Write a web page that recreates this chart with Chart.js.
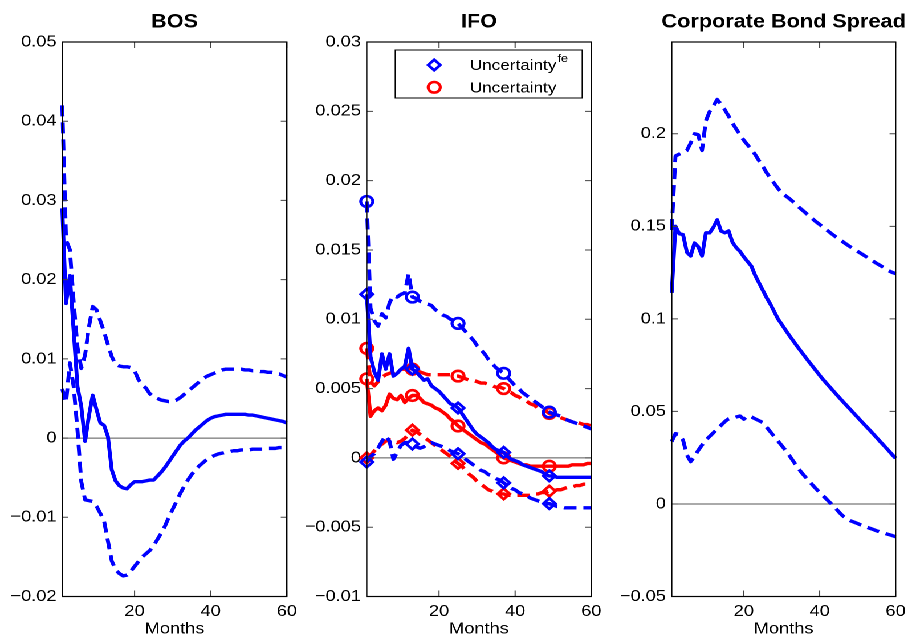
<!DOCTYPE html>
<html>
<head>
<meta charset="utf-8">
<title>Impulse responses</title>
<script src="https://cdn.jsdelivr.net/npm/chart.js@4.4.1/dist/chart.umd.min.js"></script>
<style>
  html, body { margin: 0; padding: 0; background: #fff; }
  body { width: 912px; height: 637px; overflow: hidden; position: relative; }
  /* the figure is laid out 800px wide and stretched to the full 912px */
  #figure { position: absolute; left: 0; top: 0; width: 800px; height: 637px;
            transform: scaleX(1.14); transform-origin: 0 0; }
  .panel { position: absolute; top: 0; height: 637px; }
</style>
</head>
<body>
<div id="figure">
  <div class="panel" style="left:0px;width:266px"><canvas id="bos"></canvas></div>
  <div class="panel" style="left:266px;width:267px"><canvas id="ifo"></canvas></div>
  <div class="panel" style="left:533px;width:267px"><canvas id="cbs"></canvas></div>
</div>
<script>
// ---- horizon (months) and axis ticks ----
const MONTHS = [1,2,3,4,5,6,7,8,9,10,11,12,13,14,15,16,17,18,19,20,
                21,22,23,24,25,26,27,28,29,30,31,32,33,34,35,36,37,38,39,40,
                41,42,43,44,45,46,47,48,49,50,51,52,53,54,55,56,57,58,59,60];
const X_TICKS = [20, 40, 60];
const MARKER_MONTHS = [1, 13, 25, 37, 49];

const BOS_TICKS = [-0.02, -0.01, 0, 0.01, 0.02, 0.03, 0.04, 0.05];
const IFO_TICKS = [-0.01, -0.005, 0, 0.005, 0.01, 0.015, 0.02, 0.025, 0.03];
const CBS_TICKS = [-0.05, 0, 0.05, 0.1, 0.15, 0.2];

// ---- BOS ----
const BOS_MEDIAN = [0.029,0.017,0.0205,0.0135,0.0065,0.0040,-0.0004,0.0028,0.0054,0.0036,
  0.0019,0.0016,0.0002,-0.0040,-0.0054,-0.0060,-0.0063,-0.0064,-0.0059,-0.0055,
  -0.0055,-0.0055,-0.0054,-0.0053,-0.0053,-0.0048,-0.0043,-0.0037,-0.0030,-0.0023,
  -0.0016,-0.0009,-0.0004,0.0000,0.0005,0.0010,0.0014,0.0018,0.0022,0.0025,
  0.0027,0.0028,0.0029,0.0030,0.0030,0.0030,0.0030,0.0030,0.0030,0.0029,
  0.0029,0.0028,0.0027,0.0026,0.0025,0.0024,0.0023,0.0022,0.0021,0.0019];
const BOS_UPPER = [0.0420,0.0250,0.0238,0.0172,0.0115,0.0088,0.0105,0.0140,0.0166,0.0162,
  0.0148,0.0134,0.0118,0.0103,0.0093,0.0091,0.0090,0.0090,0.0089,0.0085,
  0.0074,0.0067,0.0063,0.0056,0.0052,0.0050,0.0048,0.0047,0.0046,0.0046,
  0.0048,0.0051,0.0055,0.0059,0.0063,0.0067,0.0071,0.0075,0.0078,0.0080,
  0.0082,0.0084,0.0086,0.0087,0.0087,0.0087,0.0087,0.0087,0.0086,0.0086,
  0.0085,0.0085,0.0084,0.0084,0.0083,0.0083,0.0082,0.0081,0.0079,0.0077];
const BOS_LOWER = [0.0062,0.0045,0.0095,0.0065,0.0010,-0.0055,-0.0078,-0.0079,-0.0080,-0.0086,
  -0.0095,-0.0105,-0.0130,-0.0155,-0.0166,-0.0171,-0.0174,-0.0173,-0.0168,-0.0162,
  -0.0156,-0.0150,-0.0146,-0.0142,-0.0136,-0.0128,-0.0120,-0.0111,-0.0100,-0.0090,
  -0.0080,-0.0070,-0.0061,-0.0053,-0.0046,-0.0040,-0.0035,-0.0031,-0.0027,-0.0024,
  -0.0022,-0.0020,-0.0019,-0.0018,-0.0017,-0.0016,-0.0016,-0.0015,-0.0015,-0.0015,
  -0.0014,-0.0014,-0.0014,-0.0014,-0.0013,-0.0013,-0.0013,-0.0012,-0.0012,-0.0011];

// ---- IFO, forecast-error uncertainty (blue) ----
const IFO_FE_UPPER = [0.0185,0.0108,0.0099,0.0095,0.0104,0.0101,0.0112,0.0117,0.0116,0.0118,
  0.0119,0.0133,0.0116,0.0115,0.0113,0.0112,0.0111,0.0110,0.0107,0.0105,
  0.0103,0.0102,0.0100,0.0099,0.0097,0.0094,0.0091,0.0088,0.0085,0.0081,
  0.0078,0.0075,0.0071,0.0068,0.0065,0.0063,0.0061,0.0058,0.0055,0.0052,
  0.0050,0.0047,0.0045,0.0043,0.0041,0.0039,0.0037,0.0035,0.0033,0.0032,
  0.0031,0.0030,0.0028,0.0027,0.0026,0.0025,0.0024,0.0023,0.0022,0.0021];
const IFO_FE_MEDIAN = [0.0118,0.0073,0.0062,0.0056,0.0075,0.0064,0.0075,0.0059,0.0061,0.0064,
  0.0066,0.0079,0.0064,0.0062,0.0059,0.0056,0.0057,0.0052,0.0050,0.0048,
  0.0045,0.0042,0.0039,0.0038,0.0036,0.0032,0.0028,0.0024,0.0020,0.0017,
  0.0015,0.0013,0.0011,0.0008,0.0006,0.0005,0.0004,0.0001,-0.0001,-0.0002,
  -0.0003,-0.0005,-0.0006,-0.0007,-0.0008,-0.0009,-0.0010,-0.0012,-0.0013,-0.0013,
  -0.0014,-0.0014,-0.0014,-0.0014,-0.0014,-0.0014,-0.0014,-0.0014,-0.0014,-0.0014];
const IFO_FE_LOWER = [-0.0003,0.0001,0.0003,0.0007,0.0012,0.0016,0.0012,-0.0001,0.0004,0.0009,
  0.0011,0.0011,0.0010,0.0008,0.0007,0.0008,0.0010,0.0011,0.0010,0.0009,
  0.0008,0.0007,0.0005,0.0004,0.0003,0.0001,-0.0001,-0.0003,-0.0005,-0.0007,
  -0.0009,-0.0010,-0.0012,-0.0013,-0.0015,-0.0016,-0.0018,-0.0020,-0.0022,-0.0023,
  -0.0025,-0.0026,-0.0027,-0.0029,-0.0030,-0.0031,-0.0032,-0.0033,-0.0033,-0.0034,
  -0.0035,-0.0035,-0.0036,-0.0036,-0.0036,-0.0036,-0.0036,-0.0036,-0.0036,-0.0036];

// ---- IFO, uncertainty (red) ----
const IFO_UNC_UPPER = [0.0079,0.0055,0.0052,0.0055,0.0058,0.0060,0.0061,0.0062,0.0063,0.0064,
  0.0064,0.0065,0.0064,0.0063,0.0062,0.0061,0.0060,0.0060,0.0060,0.0060,
  0.0060,0.0060,0.0060,0.0059,0.0059,0.0058,0.0057,0.0056,0.0056,0.0055,
  0.0054,0.0054,0.0053,0.0052,0.0051,0.0051,0.0050,0.0048,0.0047,0.0045,
  0.0044,0.0042,0.0041,0.0039,0.0038,0.0036,0.0035,0.0034,0.0032,0.0031,
  0.0030,0.0029,0.0028,0.0027,0.0026,0.0026,0.0025,0.0024,0.0024,0.0023];
const IFO_UNC_MEDIAN = [0.0057,0.0030,0.0034,0.0036,0.0034,0.0038,0.0046,0.0043,0.0042,0.0045,
  0.0040,0.0043,0.0045,0.0045,0.0043,0.0040,0.0039,0.0038,0.0036,0.0035,
  0.0033,0.0031,0.0028,0.0026,0.0023,0.0021,0.0019,0.0017,0.0015,0.0013,
  0.0011,0.0010,0.0008,0.0006,0.0004,0.0002,0.0000,-0.0001,-0.0002,-0.0003,
  -0.0004,-0.0005,-0.0005,-0.0006,-0.0006,-0.0006,-0.0006,-0.0006,-0.0006,-0.0006,
  -0.0006,-0.0006,-0.0006,-0.0006,-0.0005,-0.0005,-0.0005,-0.0005,-0.0004,-0.0004];
const IFO_UNC_LOWER = [0.0000,0.0002,0.0005,0.0008,0.0010,0.0012,0.0013,0.0012,0.0011,0.0012,
  0.0014,0.0017,0.0020,0.0019,0.0017,0.0015,0.0013,0.0011,0.0009,0.0007,
  0.0005,0.0003,0.0001,-0.0002,-0.0004,-0.0006,-0.0009,-0.0012,-0.0014,-0.0017,
  -0.0019,-0.0021,-0.0023,-0.0024,-0.0026,-0.0026,-0.0026,-0.0027,-0.0027,-0.0027,
  -0.0027,-0.0027,-0.0027,-0.0027,-0.0026,-0.0026,-0.0025,-0.0025,-0.0024,-0.0024,
  -0.0023,-0.0023,-0.0022,-0.0021,-0.0021,-0.0020,-0.0020,-0.0019,-0.0019,-0.0018];

// ---- Corporate bond spread ----
const CBS_MEDIAN = [0.114,0.150,0.146,0.1455,0.136,0.134,0.141,0.139,0.134,0.1465,
  0.1465,0.1495,0.1535,0.1475,0.1465,0.1475,0.1415,0.1385,0.1365,0.1335,
  0.1310,0.1285,0.1235,0.1195,0.1155,0.1115,0.1080,0.1040,0.1000,0.0970,
  0.0940,0.0910,0.0882,0.0854,0.0827,0.0800,0.0773,0.0747,0.0721,0.0695,
  0.0670,0.0647,0.0624,0.0601,0.0578,0.0556,0.0534,0.0512,0.0490,0.0468,
  0.0446,0.0424,0.0403,0.0381,0.0359,0.0336,0.0314,0.0292,0.0269,0.0247];
const CBS_UPPER = [0.148,0.188,0.189,0.190,0.191,0.195,0.200,0.1995,0.191,0.207,
  0.212,0.215,0.2185,0.216,0.213,0.2096,0.2058,0.2026,0.1995,0.1965,
  0.1940,0.1916,0.1888,0.1855,0.1825,0.1790,0.1760,0.1733,0.1705,0.1682,
  0.1665,0.1650,0.1633,0.1614,0.1595,0.1578,0.1560,0.1543,0.1525,0.1510,
  0.1494,0.1478,0.1462,0.1447,0.1432,0.1418,0.1404,0.1390,0.1378,0.1365,
  0.1352,0.1339,0.1326,0.1313,0.1300,0.1288,0.1276,0.1262,0.1252,0.1245];
const CBS_LOWER = [0.0337,0.0380,0.0375,0.0345,0.0265,0.0229,0.0255,0.0290,0.0318,0.0345,
  0.0365,0.0385,0.0405,0.0425,0.0445,0.0460,0.0465,0.0470,0.0475,0.0458,
  0.0476,0.0470,0.0460,0.0450,0.0440,0.0415,0.0390,0.0365,0.0340,0.0315,
  0.0290,0.0262,0.0232,0.0203,0.0175,0.0151,0.0128,0.0105,0.0083,0.0062,
  0.0042,0.0022,0.0002,-0.0019,-0.0042,-0.0063,-0.0078,-0.0090,-0.0098,-0.0106,
  -0.0115,-0.0122,-0.0130,-0.0137,-0.0145,-0.0152,-0.0158,-0.0164,-0.0170,-0.0177];

const BLUE = '#0000ff';
const RED = '#ff0000';
const FONT = '"Liberation Sans", Arial, Helvetica, sans-serif';

Chart.defaults.font.family = FONT;
Chart.defaults.color = '#000';

const LEGEND_ENTRIES = [
  { text: 'Uncertainty', sup: 'fe', color: BLUE, marker: 'rectRot' },
  { text: 'Uncertainty', sup: '', color: RED, marker: 'circle' }
];

function fmtTick(v) {
  return String(v).replace('-', '\u2212');
}

function series(label, data, color, dashed, marker) {
  return {
    label,
    data,
    borderColor: color,
    borderWidth: 3.4,
    borderDash: dashed ? [11, 6] : [],
    borderJoinStyle: 'round',
    fill: false,
    tension: 0,
    clip: 8,
    pointStyle: marker || 'circle',
    pointRadius: marker ? (c => MARKER_MONTHS.includes(MONTHS[c.dataIndex]) ? 5.3 : 0) : 0,
    pointHoverRadius: 0,
    pointBorderColor: color,
    pointBackgroundColor: 'rgba(0,0,0,0)',
    pointBorderWidth: 2.6
  };
}

// box, inward tick marks, zero line and title
const frame = {
  id: 'frame',
  beforeDatasetsDraw(chart) {
    const { ctx, chartArea: a, scales: { y } } = chart;
    const y0 = y.getPixelForValue(0);
    ctx.save();
    ctx.strokeStyle = '#555';
    ctx.lineWidth = 1;
    ctx.beginPath();
    ctx.moveTo(a.left, y0);
    ctx.lineTo(a.right, y0);
    ctx.stroke();
    ctx.restore();
  },
  afterDraw(chart, args, opts) {
    const { ctx, chartArea: a, scales: { x, y } } = chart;
    ctx.save();
    ctx.strokeStyle = '#444';
    ctx.lineWidth = 1;
    ctx.beginPath();
    y.ticks.forEach(t => {
      const p = y.getPixelForValue(t.value);
      ctx.moveTo(a.left, p); ctx.lineTo(a.left + 5.3, p);
      ctx.moveTo(a.right, p); ctx.lineTo(a.right - 5.3, p);
    });
    x.ticks.forEach(t => {
      const p = x.getPixelForValue(t.value);
      ctx.moveTo(p, a.bottom); ctx.lineTo(p, a.bottom - 6);
      ctx.moveTo(p, a.top); ctx.lineTo(p, a.top + 6);
    });
    ctx.stroke();
    ctx.strokeStyle = '#000';
    ctx.lineWidth = 1.2;
    ctx.strokeRect(a.left, a.top, a.right - a.left, a.bottom - a.top);
    ctx.fillStyle = '#000';
    ctx.font = 'bold 19px ' + FONT;
    ctx.textAlign = 'center';
    ctx.textBaseline = 'middle';
    ctx.fillText(opts.text, (a.left + a.right) / 2, 22.5);
    ctx.restore();
  }
};

const ifoLegend = {
  id: 'ifoLegend',
  afterDraw(chart) {
    const { ctx, chartArea: a } = chart;
    const w = 164, h = 48;
    const left = a.right - 7.9 - w, top = a.top + 8;
    ctx.save();
    ctx.fillStyle = '#fff';
    ctx.fillRect(left, top, w, h);
    ctx.strokeStyle = '#000';
    ctx.lineWidth = 1;
    ctx.strokeRect(left, top, w, h);
    LEGEND_ENTRIES.forEach((e, i) => {
      const cy = top + 15 + i * 22.3;
      ctx.strokeStyle = e.color;
      ctx.fillStyle = 'rgba(0,0,0,0)';
      ctx.lineWidth = 2.6;
      Chart.helpers.drawPoint(ctx, { pointStyle: e.marker, radius: 5.3, borderWidth: 2.6, rotation: 0 }, left + 34.2, cy);
      ctx.fillStyle = '#000';
      ctx.font = '15px ' + FONT;
      ctx.textAlign = 'left';
      ctx.textBaseline = 'middle';
      ctx.fillText(e.text, left + 65.5, cy + 1);
      if (e.sup) {
        const tw = ctx.measureText(e.text).width;
        ctx.font = '11px ' + FONT;
        ctx.fillText(e.sup, left + 65.5 + tw + 1, cy - 6);
      }
    });
    ctx.restore();
  }
};

function makePanel(id, title, yMin, yMax, yTicks, yAxisWidth, padRight, datasets, extra) {
  return new Chart(document.getElementById(id), {
    type: 'line',
    data: { labels: MONTHS, datasets },
    options: {
      responsive: true,
      maintainAspectRatio: false,
      animation: false,
      devicePixelRatio: 2,
      events: [],
      layout: { padding: { top: 42, right: padRight, left: 0, bottom: 0 } },
      plugins: {
        legend: { display: false },
        tooltip: { enabled: false },
        frame: { text: title }
      },
      scales: {
        x: {
          type: 'linear',
          min: 1,
          max: 60,
          afterBuildTicks: ax => { ax.ticks = X_TICKS.map(v => ({ value: v })); },
          afterFit: ax => { ax.height = 40.5; },
          grid: { display: false, drawTicks: false },
          border: { display: false },
          ticks: { font: { size: 16 }, color: '#000', padding: 5.5, maxRotation: 0, autoSkip: false,
                   callback: v => String(v) },
          title: { display: true, text: 'Months', color: '#000',
                   font: { size: 16, lineHeight: 1 }, padding: { top: 0, bottom: 0 } }
        },
        y: {
          type: 'linear',
          min: yMin,
          max: yMax,
          afterBuildTicks: ax => { ax.ticks = yTicks.map(v => ({ value: v })); },
          afterFit: ax => { ax.width = yAxisWidth; },
          grid: { display: false, drawTicks: false },
          border: { display: false },
          ticks: { font: { size: 16 }, color: '#000', padding: 5, autoSkip: false,
                   callback: v => fmtTick(v) }
        }
      }
    },
    plugins: [frame].concat(extra || [])
  });
}

makePanel('bos', 'BOS', -0.02, 0.05, BOS_TICKS, 54.6, 10.6, [
  series('median', BOS_MEDIAN, BLUE, false),
  series('upper', BOS_UPPER, BLUE, true),
  series('lower', BOS_LOWER, BLUE, true)
]);

makePanel('ifo', 'IFO', -0.01, 0.03, IFO_TICKS, 55.7, 11.1, [
  series('Uncertainty fe upper', IFO_FE_UPPER, BLUE, true, 'circle'),
  series('Uncertainty fe', IFO_FE_MEDIAN, BLUE, false, 'rectRot'),
  series('Uncertainty fe lower', IFO_FE_LOWER, BLUE, true, 'rectRot'),
  series('Uncertainty upper', IFO_UNC_UPPER, RED, true, 'circle'),
  series('Uncertainty', IFO_UNC_MEDIAN, RED, false, 'circle'),
  series('Uncertainty lower', IFO_UNC_LOWER, RED, true, 'rectRot')
], [ifoLegend]);

makePanel('cbs', 'Corporate Bond Spread', -0.05, 0.2496, CBS_TICKS, 56.2, 10.5, [
  series('median', CBS_MEDIAN, BLUE, false),
  series('upper', CBS_UPPER, BLUE, true),
  series('lower', CBS_LOWER, BLUE, true)
]);
</script>
</body>
</html>
